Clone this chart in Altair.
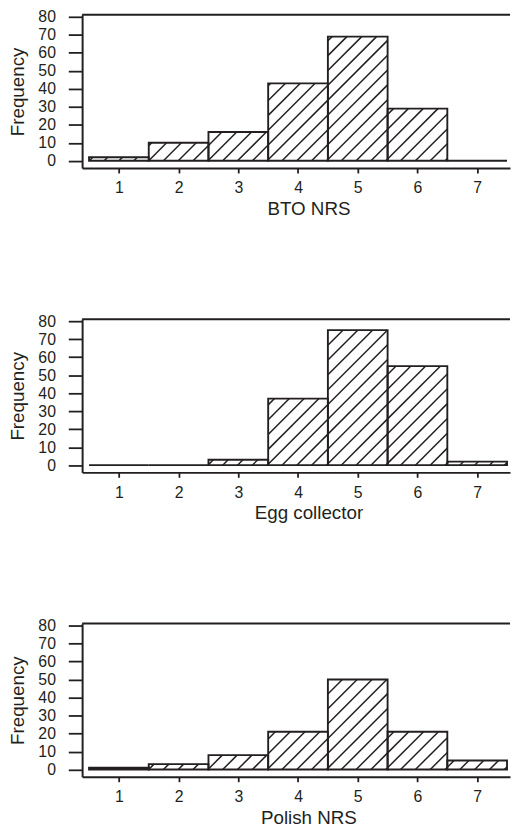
import altair as alt
import pandas as pd
import numpy as np

# ---- data ----
scores = [1, 2, 3, 4, 5, 6, 7]
bto_nrs = [2, 10, 16, 43, 69, 29, 0]
egg_collector = [0, 0, 3, 37, 75, 55, 2]
polish_nrs = [1, 3, 8, 21, 50, 21, 5]
panel_titles = ["BTO NRS", "Egg collector", "Polish NRS"]
y_ticks = [0, 10, 20, 30, 40, 50, 60, 70, 80]

# ---- layout / style ----
W, H = 433, 155
XMIN, XMAX = 0.384, 7.55
YMIN, YMAX = -4.0, 81.1
HATCH_STEP = 15.0  # horizontal pixel spacing of hatch lines
INK = "#231f20"
FONT = "Liberation Sans"


def hatch_segments(counts):
    sx = W / (XMAX - XMIN)
    sy = H / (YMAX - YMIN)
    rows = []
    for s, c in zip(scores, counts):
        if c <= 0:
            continue
        X0 = (s - 0.5 - XMIN) * sx
        X1 = (s + 0.5 - XMIN) * sx
        Y0 = (0 - YMIN) * sy
        Y1 = (c - YMIN) * sy
        kmin = X0 - Y1
        kmax = X1 - Y0
        k = np.floor(kmin / HATCH_STEP) * HATCH_STEP
        while k <= kmax:
            xa = max(X0, Y0 + k)
            xb = min(X1, Y1 + k)
            if xb > xa + 0.8:
                rows.append({
                    "hx": xa / sx + XMIN, "hy": (xa - k) / sy + YMIN,
                    "hx2": xb / sx + XMIN, "hy2": (xb - k) / sy + YMIN,
                })
            k += HATCH_STEP
    return pd.DataFrame(rows)


def panel(counts, title):
    df = pd.DataFrame({
        "lo": [s - 0.5 for s in scores],
        "hi": [s + 0.5 for s in scores],
        "count": counts,
        "base": [0] * len(scores),
    })
    xs = alt.Scale(domain=[XMIN, XMAX], nice=False, zero=False)
    ys = alt.Scale(domain=[YMIN, YMAX], nice=False, zero=False)
    x_axis = alt.Axis(values=scores, format="d", title=title, tickSize=5,
                      labelPadding=7, titlePadding=4, titleX=229, labelFlush=False)
    y_axis = alt.Axis(values=y_ticks, format="d", title="Frequency", tickSize=14,
                      labelPadding=13, titlePadding=11)

    hatch = alt.Chart(hatch_segments(counts)).mark_rule(
        stroke=INK, strokeWidth=1.5
    ).encode(
        x=alt.X("hx:Q", scale=xs, axis=x_axis),
        y=alt.Y("hy:Q", scale=ys, axis=y_axis),
        x2="hx2:Q",
        y2="hy2:Q",
    )

    bars = alt.Chart(df).mark_rect(
        fill="transparent", stroke=INK, strokeWidth=1.9
    ).encode(
        x=alt.X("lo:Q", scale=xs, axis=x_axis),
        x2="hi:Q",
        y=alt.Y("count:Q", scale=ys, axis=y_axis),
        y2="base:Q",
    )

    top = alt.Chart(alt.Data(values=[{"a": 1}])).mark_rule(
        stroke=INK, strokeWidth=2
    ).encode(x=alt.value(0), x2=alt.value(W), y=alt.value(0))

    return alt.layer(hatch, bars, top).properties(width=W, height=H)


chart = alt.vconcat(
    panel(bto_nrs, panel_titles[0]),
    panel(egg_collector, panel_titles[1]),
    panel(polish_nrs, panel_titles[2]),
    spacing=96,
).properties(
    padding={"left": 0, "top": -4, "right": 0, "bottom": 0}
).configure_view(
    stroke=None
).configure_axis(
    grid=False,
    domainColor=INK, domainWidth=2,
    tickColor=INK, tickWidth=1.8,
    labelFont=FONT, labelFontSize=16, labelColor=INK,
    titleFont=FONT, titleFontSize=19, titleFontWeight="normal", titleColor=INK,
)

chart.save("out.html", embed_options={"renderer": "svg", "actions": False})
